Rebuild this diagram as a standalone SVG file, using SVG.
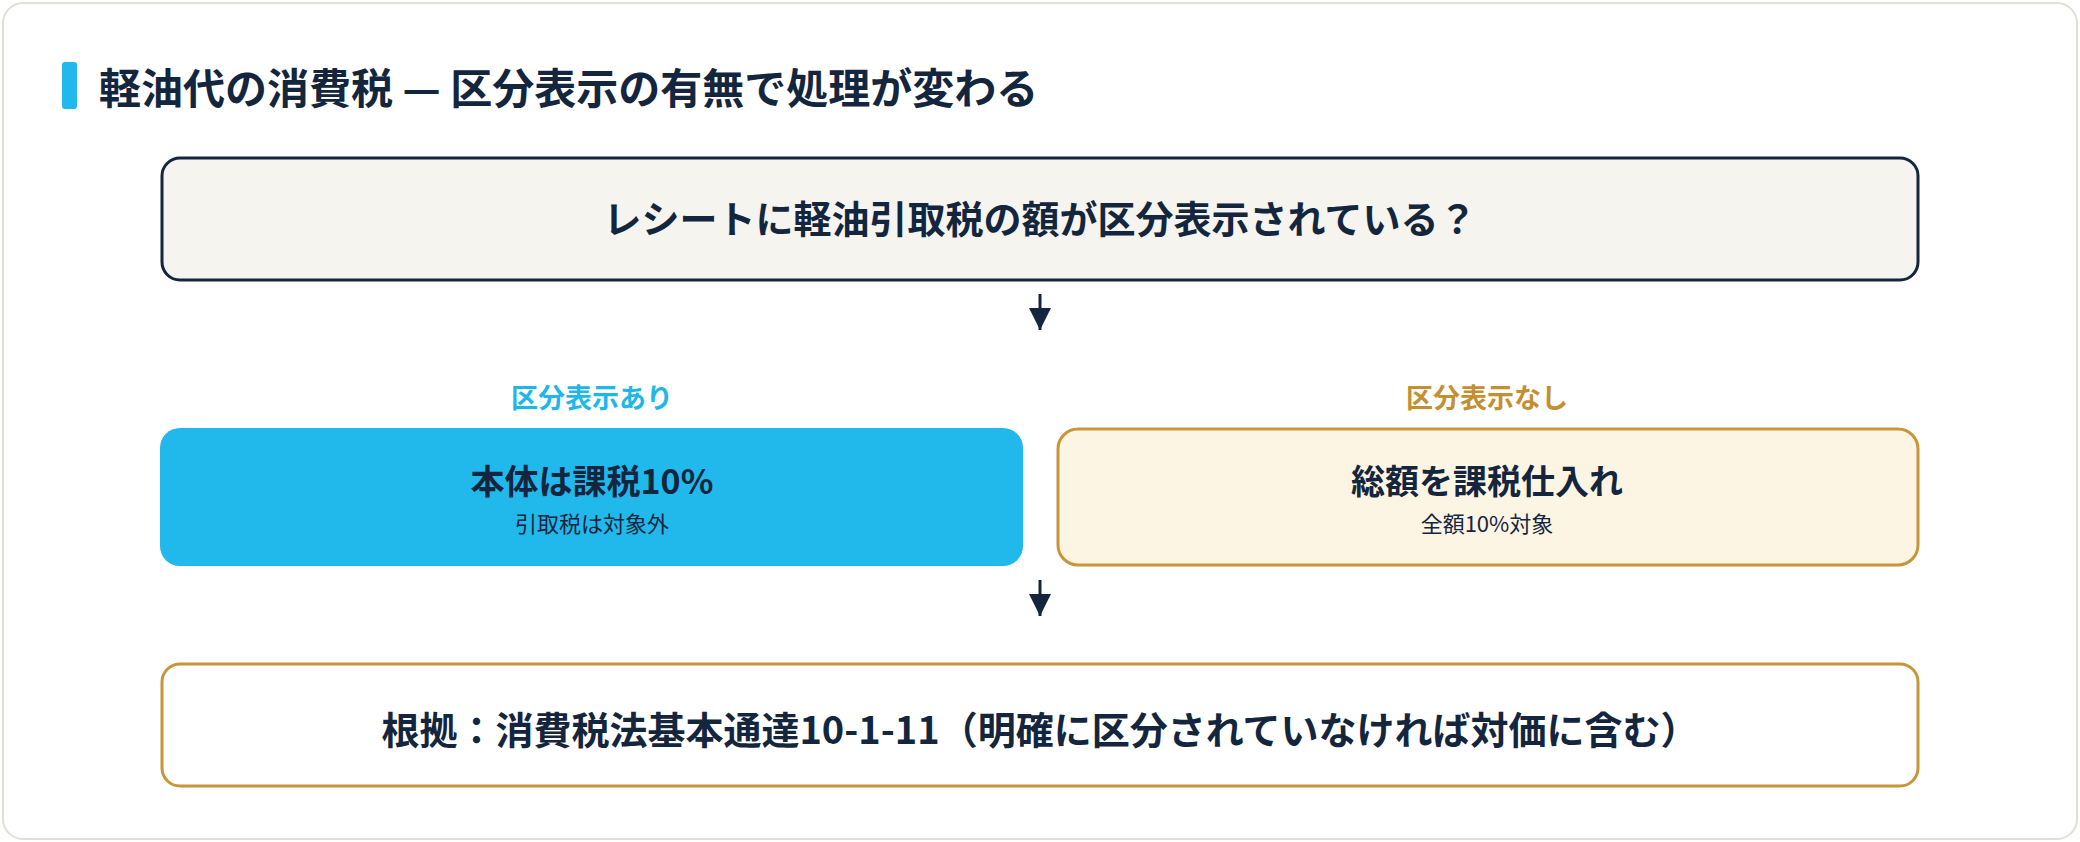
<svg xmlns="http://www.w3.org/2000/svg" width="2080" height="842" viewBox="0 0 2080 842">
<style>
text{font-family:"Noto Sans CJK JP","Noto Sans",sans-serif;text-anchor:middle;fill:#14263d}
.b{font-weight:700}
.conn line{stroke:#14263d;stroke-width:3}
</style>
<defs><marker id="a" viewBox="0 0 22 22" refX="11" refY="22" markerWidth="22" markerHeight="22" markerUnits="userSpaceOnUse"><path d="M0,0L22,0L11,22z" fill="#14263d"/></marker></defs>
<rect x="3" y="3" width="2074" height="836" rx="20" fill="#fff" stroke="#e2dfd2" stroke-width="2"/>
<g id="title"><rect x="62" y="62" width="15" height="47" rx="3" fill="#21b8ec"/>
<text x="99" y="104" class="b" font-size="42" style="text-anchor:start">軽油代の消費税 — 区分表示の有無で処理が変わる</text></g>
<g id="q"><rect x="162" y="158" width="1756" height="122" rx="18" fill="#f5f4ef" stroke="#14263d" stroke-width="3"/>
<text x="1040" y="233" class="b" font-size="38">レシートに軽油引取税の額が区分表示されている？</text></g>
<g id="lblL"><text x="592" y="408" class="b" font-size="27" style="fill:#1fb6e8">区分表示あり</text></g>
<g id="lblR"><text x="1487" y="408" class="b" font-size="27" style="fill:#c38f33">区分表示なし</text></g>
<g id="left"><rect x="160" y="428" width="863" height="138" rx="20" fill="#21b8ec"/>
<text x="592" y="494" class="b" font-size="34">本体は課税10%</text>
<text x="592" y="532" font-size="22">引取税は対象外</text></g>
<g id="right"><rect x="1058" y="429" width="860" height="136" rx="20" fill="#fdf5e4" stroke="#c8953a" stroke-width="3"/>
<text x="1487" y="494" class="b" font-size="34">総額を課税仕入れ</text>
<text x="1487" y="532" font-size="22">全額10%対象</text></g>
<g id="basis"><rect x="162" y="664" width="1756" height="122" rx="18" fill="#fff" stroke="#c8953a" stroke-width="3"/>
<text x="1040" y="744" class="b" font-size="38">根拠：消費税法基本通達10-1-11（明確に区分されていなければ対価に含む）</text></g>
<g class="conn"><line x1="1040" y1="294" x2="1040" y2="330" marker-end="url(#a)"/>
<line x1="1040" y1="580" x2="1040" y2="616" marker-end="url(#a)"/></g>
</svg>
